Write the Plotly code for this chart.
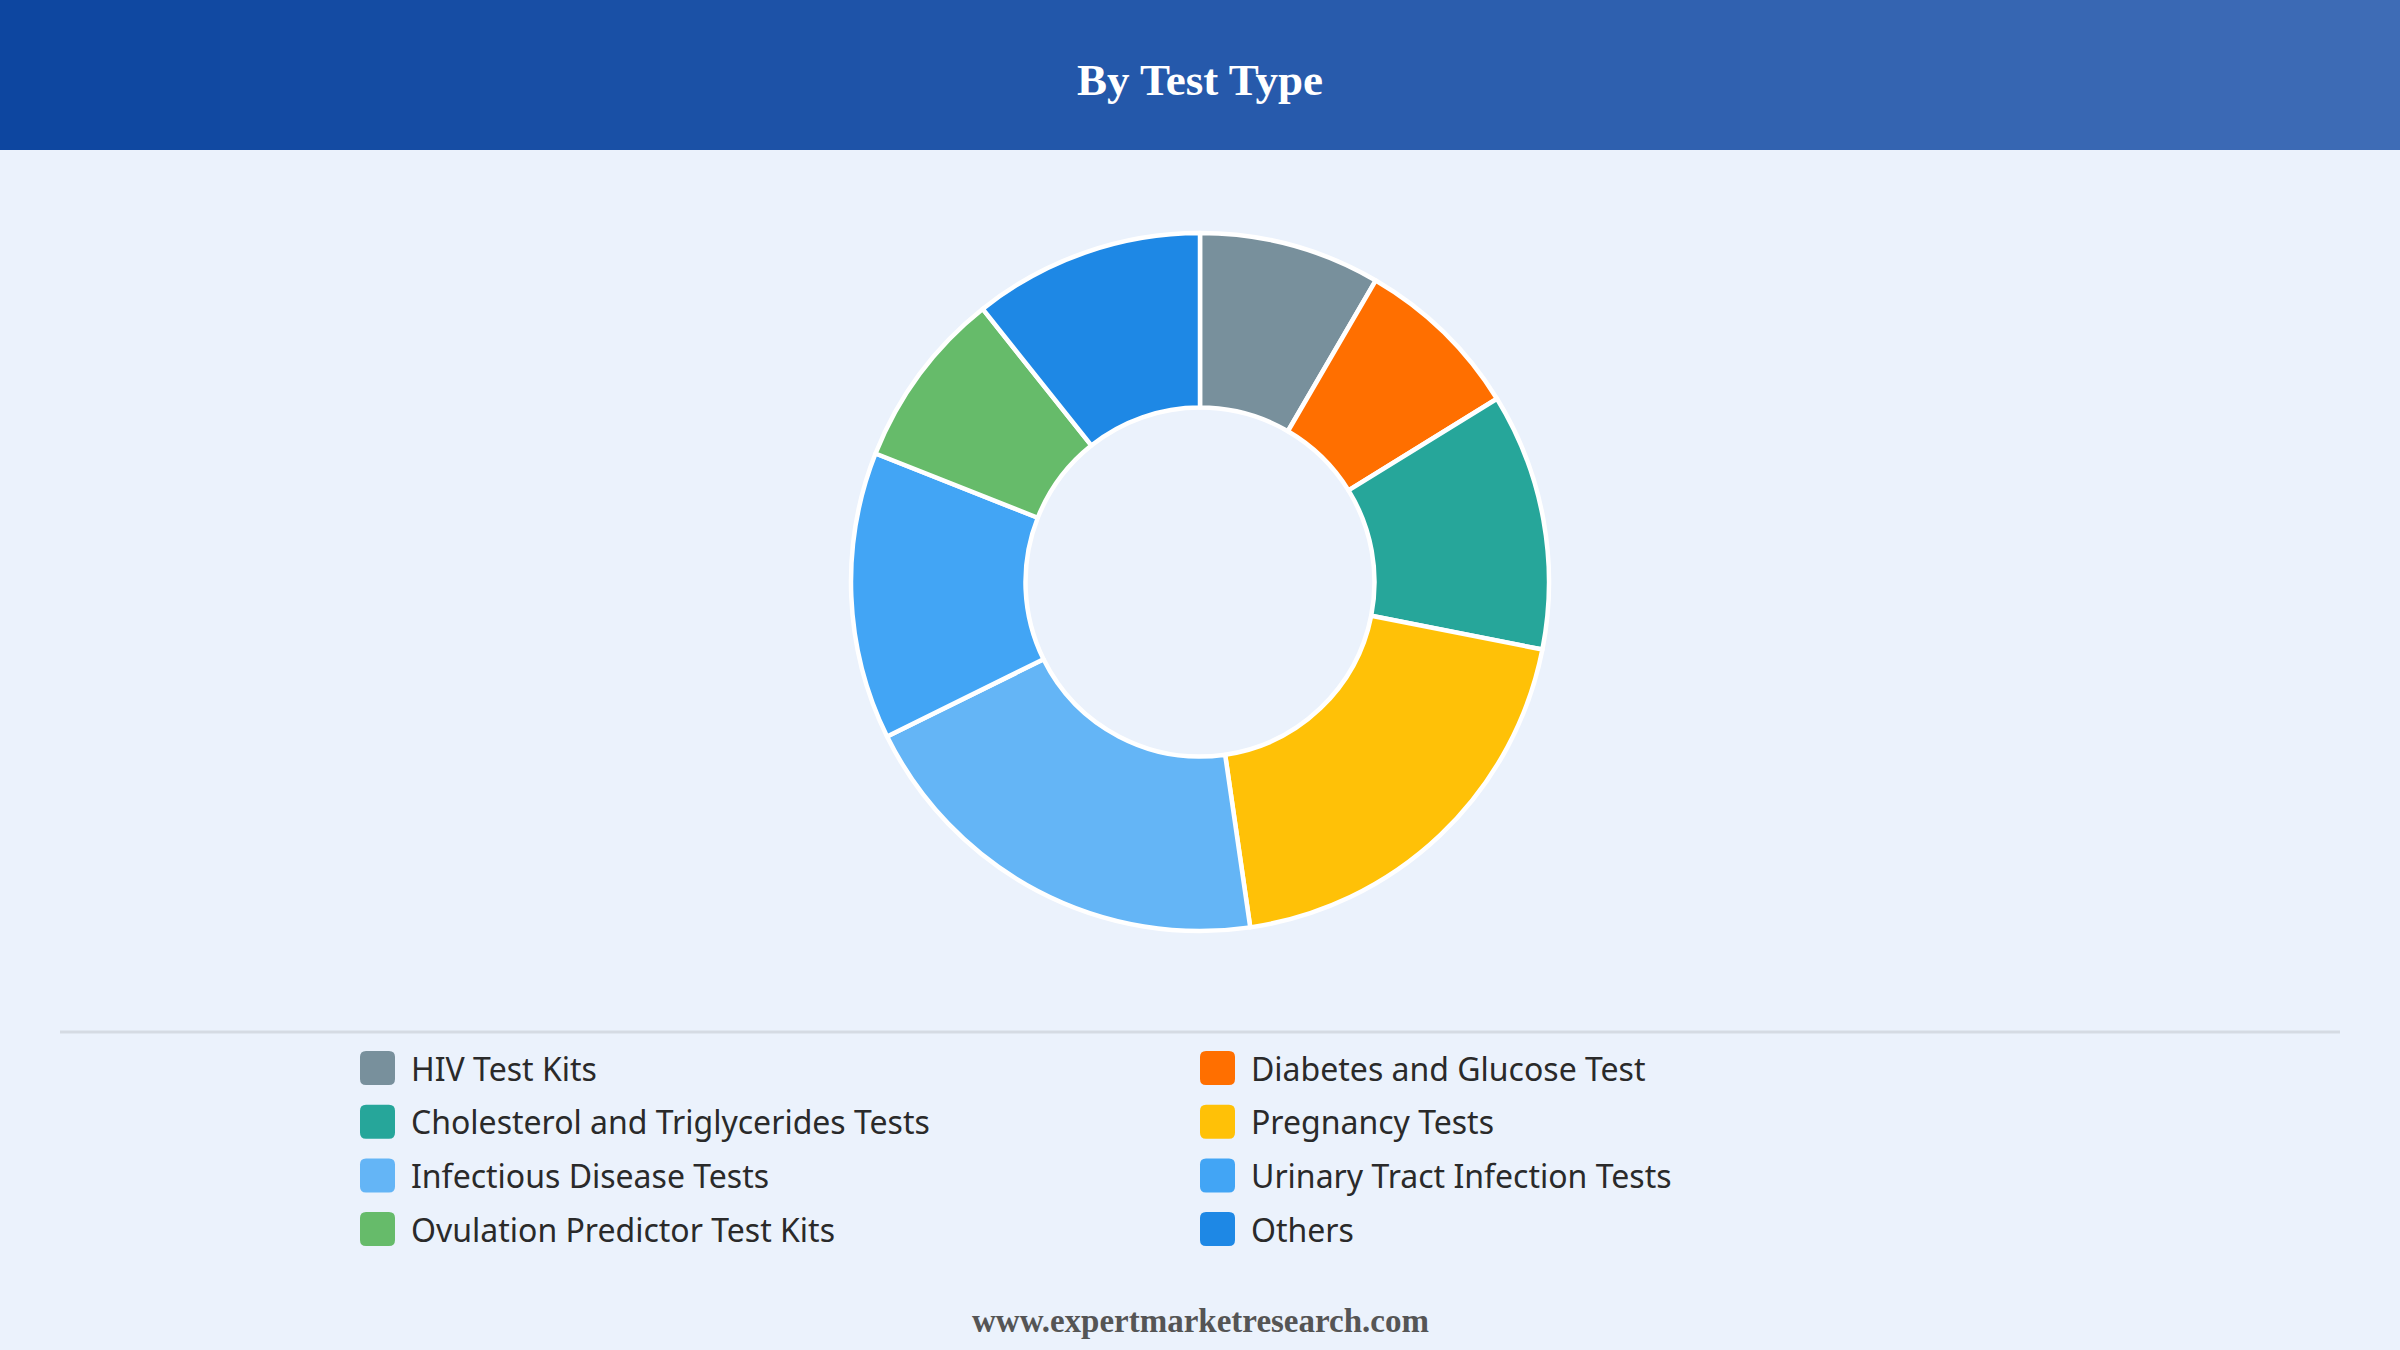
import plotly.graph_objects as go

# ---- data ----
categories = [
    "HIV Test Kits",
    "Diabetes and Glucose Test",
    "Cholesterol and Triglycerides Tests",
    "Pregnancy Tests",
    "Infectious Disease Tests",
    "Urinary Tract Infection Tests",
    "Ovulation Predictor Test Kits",
    "Others",
]
shares = [8.4, 7.8, 11.9, 19.6, 20.0, 13.3, 8.3, 10.7]
colors = ["#78909C", "#FF6F00", "#26A69A", "#FFC107",
          "#64B5F6", "#42A5F5", "#66BB6A", "#1E88E5"]
title_text = "By Test Type"
footer_text = "www.expertmarketresearch.com"

W, H = 2400, 1350
BG = "#EBF2FC"


def px(x):
    return x / W


def py(y):
    return 1 - y / H


fig = go.Figure()

# donut
cx, cy, r = 1200, 582, 349
fig.add_trace(go.Pie(
    labels=categories,
    values=shares,
    hole=0.5,
    sort=False,
    direction="clockwise",
    rotation=0,
    textinfo="none",
    marker=dict(colors=colors, line=dict(color="white", width=4.5)),
    domain=dict(x=[px(cx - r), px(cx + r)], y=[py(cy + r), py(cy - r)]),
    showlegend=False,
    hovertemplate="%{label}: %{value}%<extra></extra>",
))

shapes = []
annotations = []

# header gradient (decorative strips)
c0 = (13, 70, 160)
c1 = (62, 108, 182)
n = 120
for i in range(n):
    t = i / (n - 1)
    col = tuple(round(c0[k] + (c1[k] - c0[k]) * t) for k in range(3))
    shapes.append(dict(
        type="rect", xref="paper", yref="paper",
        x0=px(W * i / n), x1=px(W * (i + 1) / n + 1),
        y0=py(150), y1=1,
        fillcolor="rgb(%d,%d,%d)" % col, line=dict(width=0), layer="below",
    ))

annotations.append(dict(
    text="<b>%s</b>" % title_text, x=0.5, y=py(80), xref="paper", yref="paper",
    showarrow=False, xanchor="center", yanchor="middle",
    font=dict(family="Liberation Serif", size=45, color="white"),
))

# separator line
shapes.append(dict(
    type="line", xref="paper", yref="paper",
    x0=px(60), x1=px(2340), y0=py(1032), y1=py(1032),
    line=dict(color="#D5DBE3", width=3),
))

# legend (2 columns, row-major), built from the category lists
col_x = [360, 1200]
row_y0, row_step = 1068, 53.7
sw, sh, rad = 35, 34, 6
for i, (name, c) in enumerate(zip(categories, colors)):
    x0 = col_x[i % 2]
    yc = row_y0 + (i // 2) * row_step
    xa, xb = x0, x0 + sw
    ya, yb = yc - sh / 2, yc + sh / 2
    pts = (
        f"M {px(xa + rad)} {py(ya)} L {px(xb - rad)} {py(ya)} "
        f"Q {px(xb)} {py(ya)} {px(xb)} {py(ya + rad)} "
        f"L {px(xb)} {py(yb - rad)} Q {px(xb)} {py(yb)} {px(xb - rad)} {py(yb)} "
        f"L {px(xa + rad)} {py(yb)} Q {px(xa)} {py(yb)} {px(xa)} {py(yb - rad)} "
        f"L {px(xa)} {py(ya + rad)} Q {px(xa)} {py(ya)} {px(xa + rad)} {py(ya)} Z"
    )
    shapes.append(dict(type="path", xref="paper", yref="paper", path=pts,
                       fillcolor=c, line=dict(width=0)))
    annotations.append(dict(
        text=name, x=px(x0 + 49), y=py(yc), xref="paper", yref="paper",
        showarrow=False, xanchor="left", yanchor="middle",
        font=dict(family="Noto Sans", size=32, color="#2A2A2A"),
    ))

annotations.append(dict(
    text="<b>%s</b>" % footer_text, x=0.5, y=py(1321), xref="paper", yref="paper",
    showarrow=False, xanchor="center", yanchor="middle",
    font=dict(family="Liberation Serif", size=33, color="#555555"),
))

fig.update_layout(
    width=W, height=H,
    margin=dict(l=0, r=0, t=0, b=0),
    paper_bgcolor=BG, plot_bgcolor=BG,
    shapes=shapes, annotations=annotations,
    showlegend=False,
)

fig.write_html(
    "out.html",
    config={"displayModeBar": False},
    post_script="document.body.style.margin='0';document.body.style.overflow='hidden';",
)
